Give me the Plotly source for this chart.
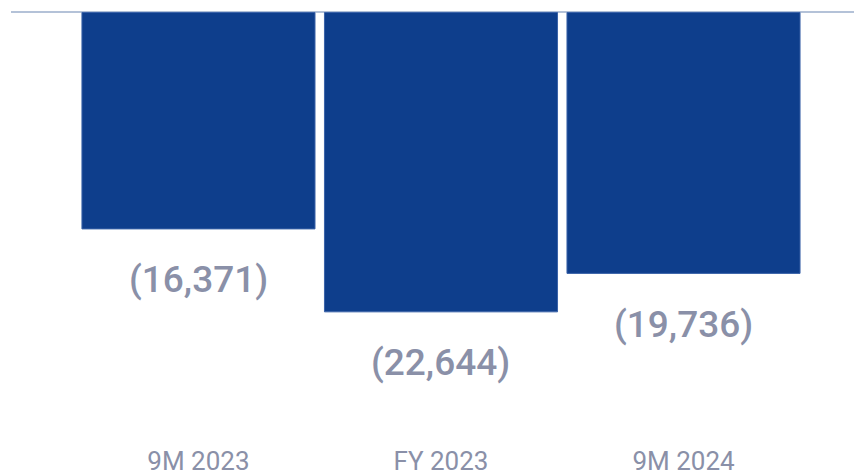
import plotly.graph_objects as go

categories = ["9M 2023", "FY 2023", "9M 2024"]
values = [-16371, -22644, -19736]
labels = ["(16,371)", "(22,644)", "(19,736)"]

BAR = "#0e3e8c"
GRAY = "#8a90a8"

fig = go.Figure()
fig.add_trace(go.Bar(
    x=categories, y=values,
    marker=dict(color=BAR, line=dict(color="#3a62a8", width=1)),
    hoverinfo="skip",
))

for c, v, t in zip(categories, values, labels):
    fig.add_annotation(x=c, y=v, text=t, showarrow=False, yanchor="middle",
                       yshift=-51,
                       font=dict(family="Roboto", size=37, color=GRAY, weight=500))

fig.update_layout(
    width=862, height=471,
    margin=dict(l=3, r=8, t=0, b=36),
    paper_bgcolor="white", plot_bgcolor="white",
    bargap=0.039,
    showlegend=False,
    xaxis=dict(range=[-0.773, 2.736], showgrid=False, zeroline=False,
               showline=False, ticks="",
               tickfont=dict(family="Roboto", size=26, color=GRAY)),
    yaxis=dict(range=[-32565, 340], showgrid=False, showticklabels=False,
               zeroline=True, zerolinecolor="#b4c2d8", zerolinewidth=2,
               showline=False),
)

fig.write_html("out.html")
